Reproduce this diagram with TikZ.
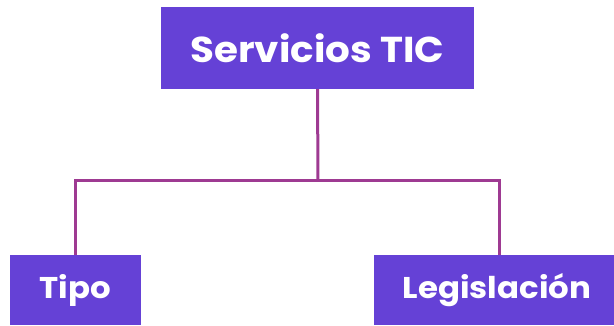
\documentclass[tikz,border=0pt]{standalone}
\usepackage{fontspec}
\setmainfont{Poppins}
\definecolor{boxc}{HTML}{6541D6}
\definecolor{linec}{HTML}{9E3A92}
\begin{document}
\begin{tikzpicture}[x=1pt,y=1pt,
  box/.style={fill=boxc,draw=none,text=white,inner sep=0pt},
  conn/.style={draw=linec,line width=3pt}]
\useasboundingbox (0,0) rectangle (614,325);
\node[box,minimum width=313pt,minimum height=82pt,font=\bfseries\fontsize{36}{40}\selectfont] (top) at (317.5,277) {\scalebox{1.08}[1]{Servicios TIC}};
\node[box,minimum width=131pt,minimum height=70pt,font=\bfseries\fontsize{30}{34}\selectfont] (tipo) at (75.5,35) {\scalebox{1.08}[1]{Tipo}};
\node[box,minimum width=240pt,minimum height=70pt,font=\bfseries\fontsize{30}{34}\selectfont] (leg) at (494,35) {\hspace*{6pt}\scalebox{1.08}[1]{Legislación}};
\coordinate (j) at (318,145);
\draw[conn] (top.south) -- (j);
\draw[conn] (tipo.north) |- (j) -| ([xshift=5pt]leg.north);
\end{tikzpicture}
\end{document}
